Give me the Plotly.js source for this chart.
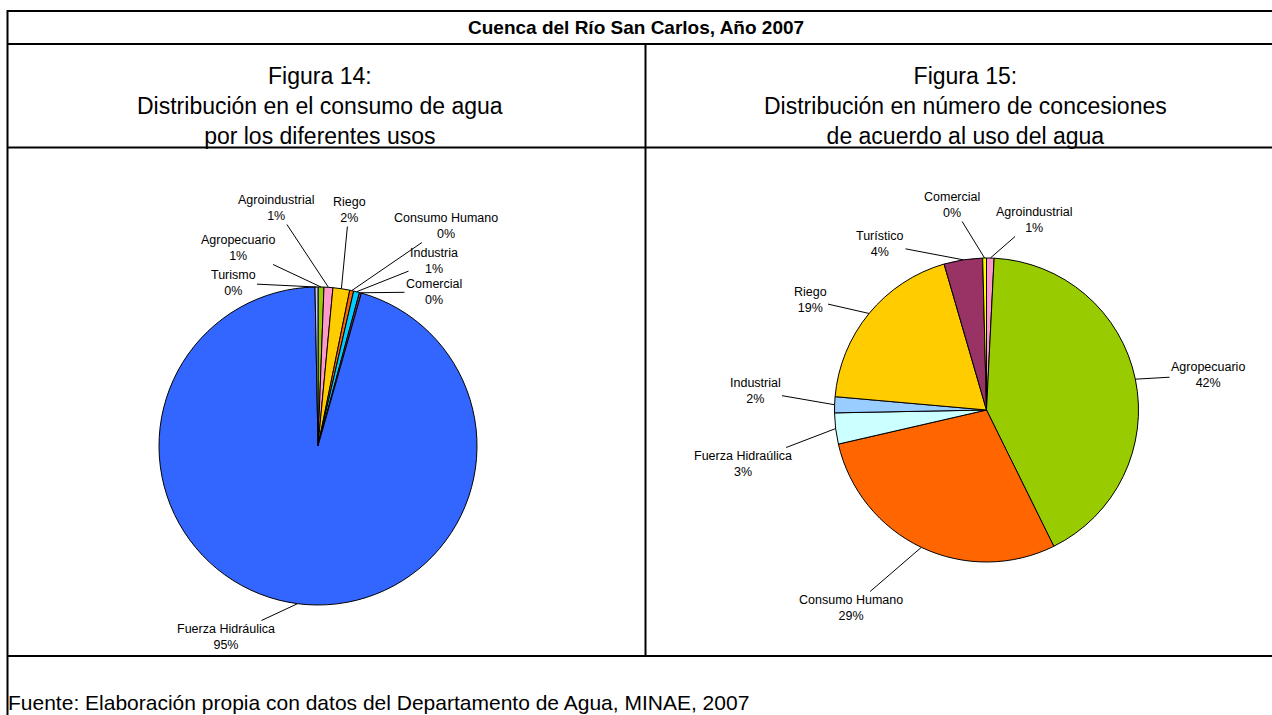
<!DOCTYPE html>
<html>
<head>
<meta charset="utf-8">
<script src="https://cdn.plot.ly/plotly-3.0.1.min.js"></script>
<style>
  html, body { margin: 0; padding: 0; background: #fff; }
  #chart { width: 1272px; height: 715px; }
</style>
</head>
<body>
<div id="chart"></div>
<script>
// Figura 14: consumo de agua por uso (porcentaje aproximado)
const usosConsumo = ['Agropecuario', 'Agroindustrial', 'Riego', 'Consumo Humano', 'Industria', 'Comercial', 'Fuerza Hidráulica', 'Turismo'];
const valoresConsumo = [0.6, 0.9, 1.7, 0.4, 0.6, 0.2, 95.3, 0.3];
const coloresConsumo = ['#99CC00', '#FF99CC', '#FFCC00', '#FF6600', '#00CCFF', '#993366', '#3366FF', '#CCCCFF'];

// Figura 15: número de concesiones por uso (porcentaje aproximado)
const usosConcesiones = ['Agroindustrial', 'Agropecuario', 'Consumo Humano', 'Fuerza Hidraúlica', 'Industrial', 'Riego', 'Turístico', 'Comercial'];
const valoresConcesiones = [0.8, 41.9, 28.7, 3.3, 1.7, 19.1, 4.1, 0.4];
const coloresConcesiones = ['#FF99CC', '#99CC00', '#FF6600', '#CCFFFF', '#99CCFF', '#FFCC00', '#993366', '#FFFF00'];

const W = 1272, H = 715;
const FONT = 'Arial, "Liberation Sans", sans-serif';
const px = x => x / W;
const py = y => 1 - y / H;

// pie geometry (pixels): centre and radius
const pieL = { cx: 318, cy: 446, r: 159 };
const pieR = { cx: 986.5, cy: 410, r: 152 };

// label positions (pixels, text centre)
const posConsumo = [[238, 248], [276, 208], [349, 210], [446, 226], [434, 261], [434, 292], [226, 637], [233, 283]];
const posConcesiones = [[1034, 220], [1208, 375], [851, 608], [743, 464], [755, 391], [810, 300], [880, 244], [952, 205]];

function pieTrace(labels, values, colors, g) {
    return {
        type: 'pie',
        labels: labels,
        values: values,
        sort: false,
        direction: 'clockwise',
        rotation: 0,
        textinfo: 'none',
        hoverinfo: 'label+percent',
        marker: { colors: colors, line: { color: '#000', width: 1 } },
        domain: { x: [px(g.cx - g.r), px(g.cx + g.r)], y: [py(g.cy + g.r), py(g.cy - g.r)] }
    };
}

function pieLabels(labels, values, pos, g) {
    const total = values.reduce((a, b) => a + b, 0);
    let cum = 0;
    return labels.map((lab, i) => {
        const mid = (cum + values[i] / 2) / total * 2 * Math.PI;
        cum += values[i];
        const tx = g.cx + g.r * Math.sin(mid);
        const ty = g.cy - g.r * Math.cos(mid);
        return {
            xref: 'paper', yref: 'paper',
            x: px(tx), y: py(ty),
            ax: pos[i][0] - tx, ay: pos[i][1] - ty,
            text: lab + '<br>' + Math.round(values[i] / total * 100) + '%',
            showarrow: true, arrowhead: 0, arrowwidth: 1, arrowcolor: '#000',
            font: { family: FONT, size: 12.5, color: '#000' },
            align: 'center'
        };
    });
}

function hline(y, x0, x1) {
    return { type: 'line', xref: 'paper', yref: 'paper', x0: px(x0), x1: px(x1), y0: py(y), y1: py(y), line: { color: '#000', width: 2 } };
}
function vline(x, y0, y1) {
    return { type: 'line', xref: 'paper', yref: 'paper', x0: px(x), x1: px(x), y0: py(y0), y1: py(y1), line: { color: '#000', width: 2 } };
}

function textNote(text, x, y, size, bold, anchor) {
    return {
        xref: 'paper', yref: 'paper', x: px(x), y: py(y),
        xanchor: anchor || 'center', yanchor: 'middle',
        text: bold ? '<b>' + text + '</b>' : text,
        showarrow: false, align: 'center',
        font: { family: FONT, size: size, color: '#000' }
    };
}

const annotations = [
    textNote('Cuenca del Río San Carlos, Año 2007', 636, 28, 19, true),
    textNote('Figura 14:<br>Distribución en el consumo de agua<br>por los diferentes usos', 320, 106, 23),
    textNote('Figura 15:<br>Distribución en número de concesiones<br>de acuerdo al uso del agua', 965, 106, 23),
    textNote('Fuente: Elaboración propia con datos del Departamento de Agua, MINAE, 2007', 6, 702, 21, false, 'left')
].concat(pieLabels(usosConsumo, valoresConsumo, posConsumo, pieL))
 .concat(pieLabels(usosConcesiones, valoresConcesiones, posConcesiones, pieR));

const shapes = [
    hline(11, 7, W), hline(44, 7, W), hline(147.5, 7, W), hline(656, 7, W),
    vline(7.5, 10, H), vline(645.5, 44, 656)
];

const layout = {
    width: W, height: H,
    margin: { l: 0, r: 0, t: 0, b: 0, pad: 0 },
    paper_bgcolor: '#fff',
    showlegend: false,
    shapes: shapes,
    annotations: annotations
};

Plotly.newPlot('chart', [
    pieTrace(usosConsumo, valoresConsumo, coloresConsumo, pieL),
    pieTrace(usosConcesiones, valoresConcesiones, coloresConcesiones, pieR)
], layout, { displayModeBar: false, staticPlot: true });
</script>
</body>
</html>
